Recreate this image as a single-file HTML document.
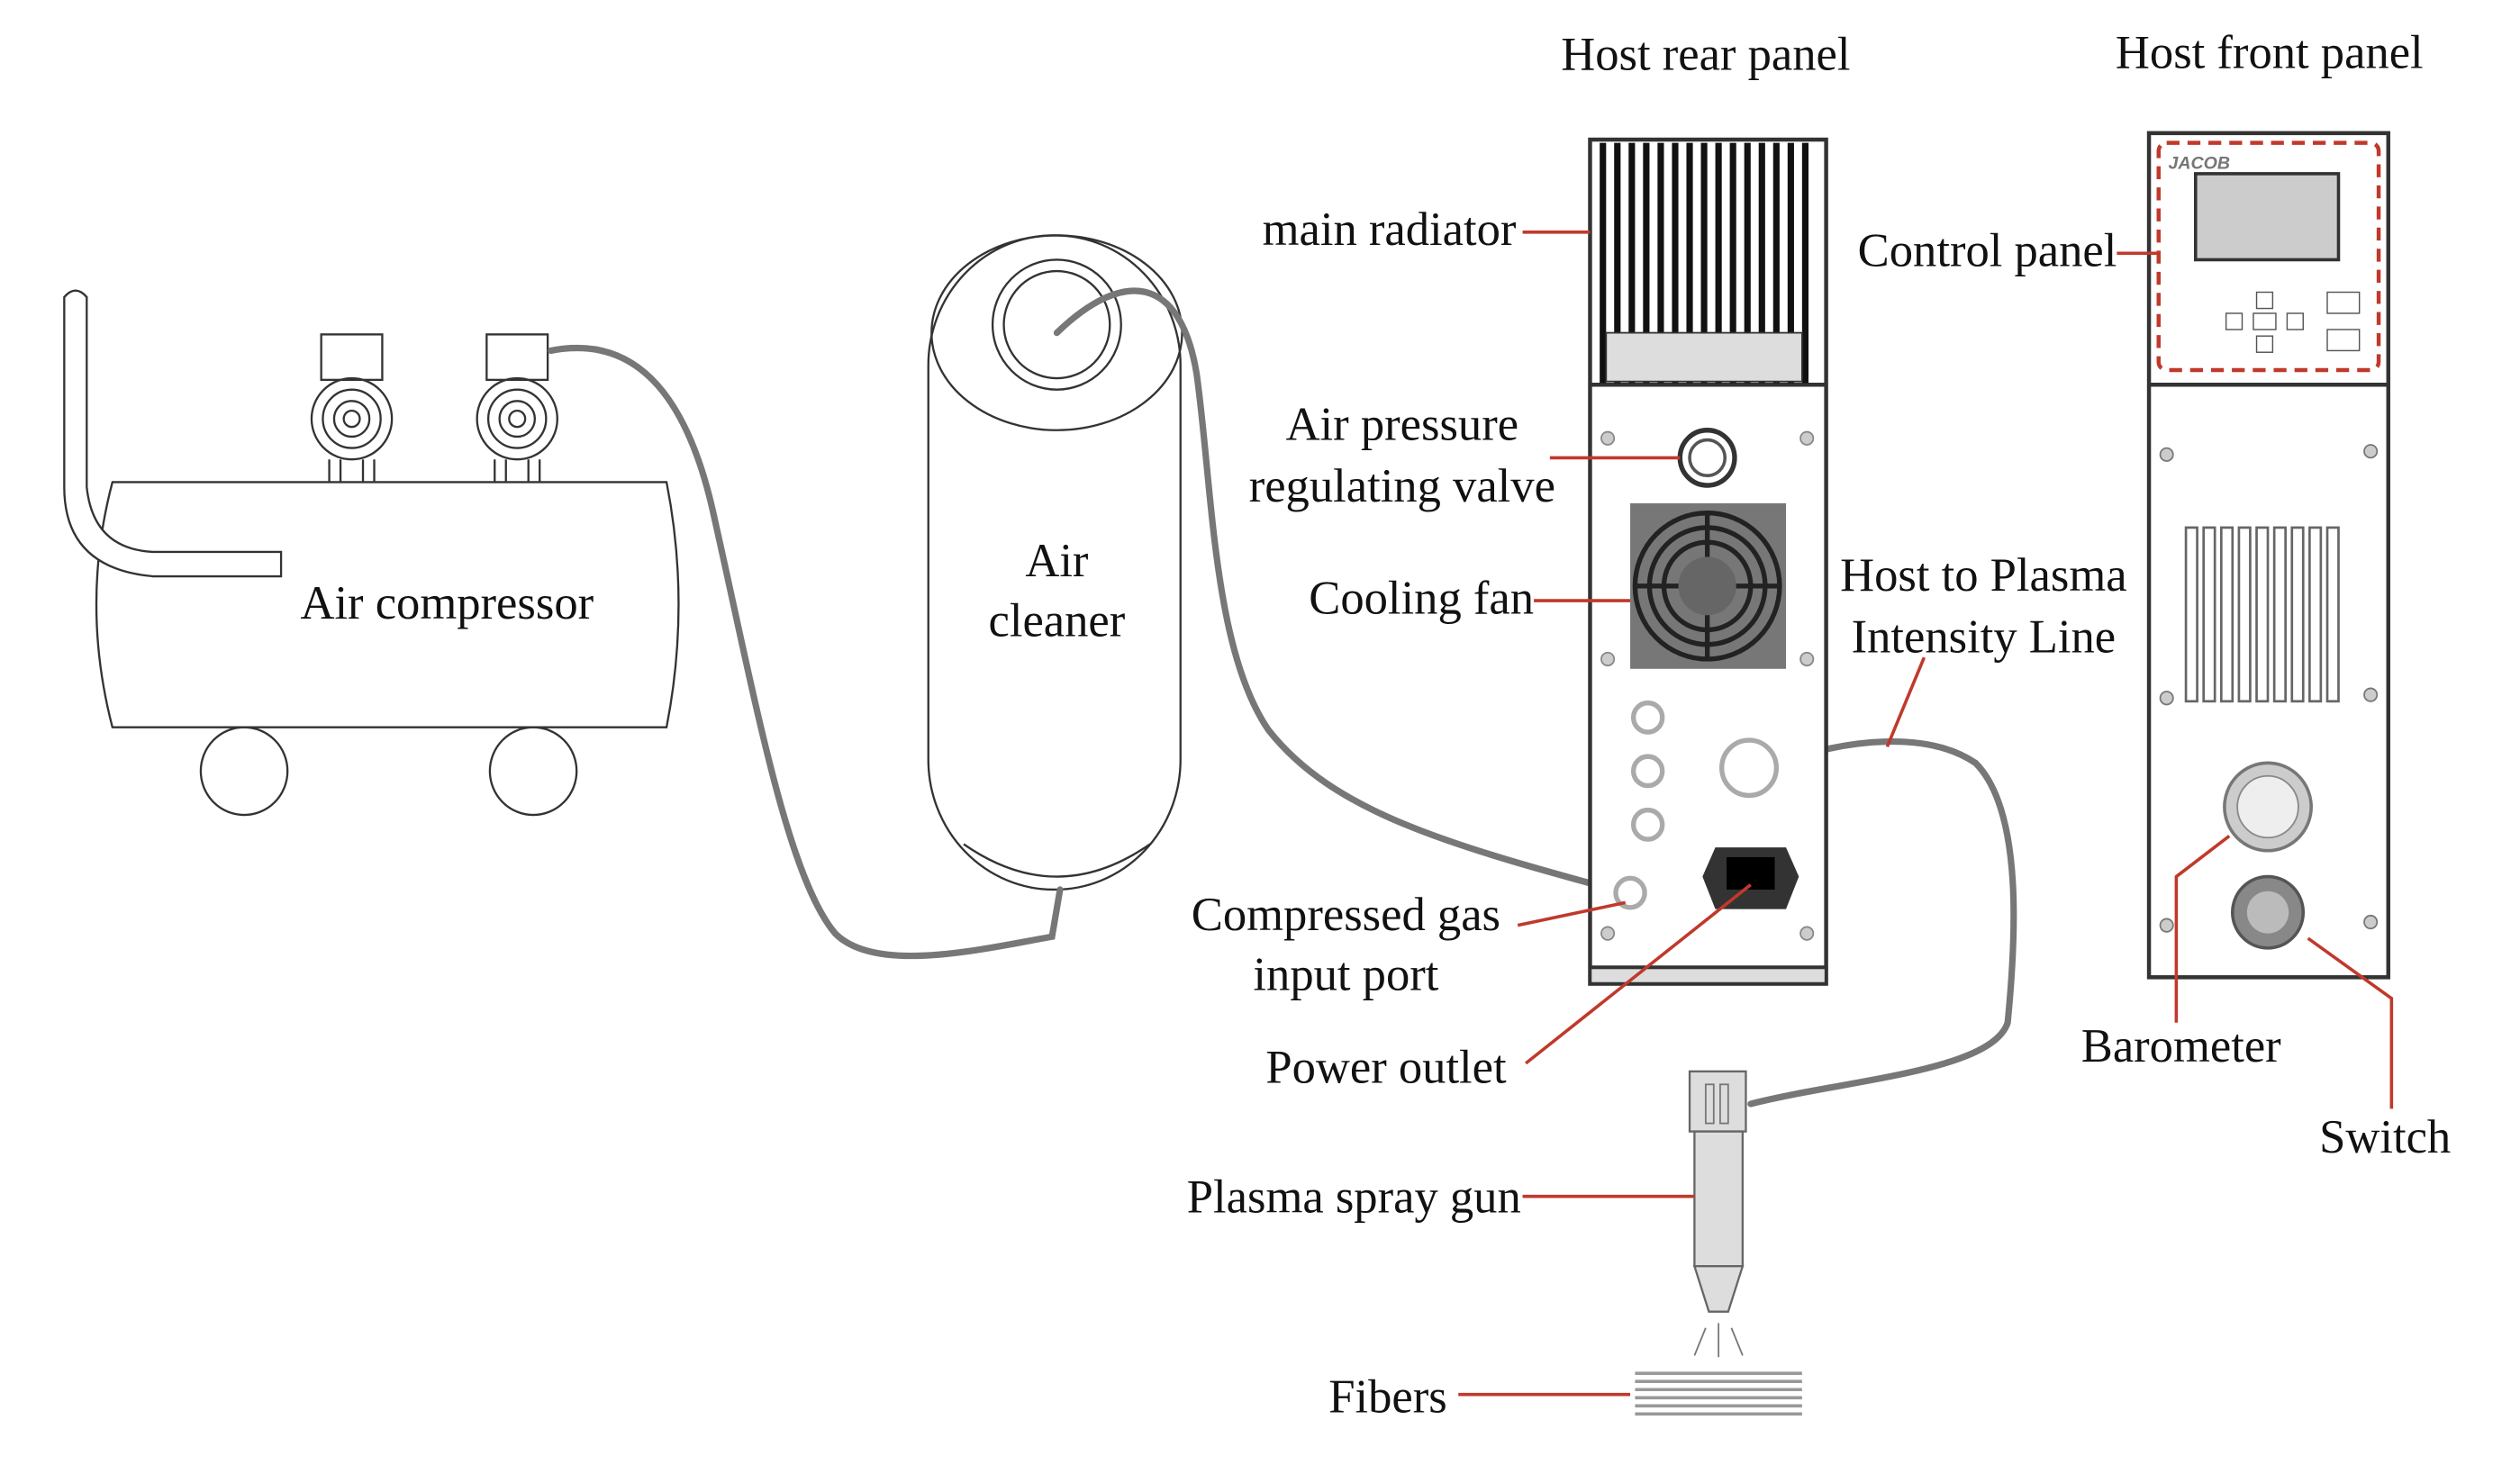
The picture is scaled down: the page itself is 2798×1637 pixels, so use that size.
<!DOCTYPE html>
<html><head><meta charset="utf-8"><style>
html,body{margin:0;padding:0;background:#fff;}
svg{display:block;}
text{font-family:"Liberation Serif",serif;font-size:29.5px;fill:#111;}
</style></head><body>
<svg width="2798" height="1637" viewBox="0 0 1569 908" preserveAspectRatio="none" xmlns="http://www.w3.org/2000/svg">
<rect width="1569" height="908" fill="#fff"/>
<!-- Air compressor -->
<g fill="none" stroke="#333" stroke-width="1.3">
<path d="M70,297 L415,297 Q430,372 415,448 L70,448 Q50,372 70,297 Z"/>
<path d="M40,183 Q47,175 54,183 L54,300 Q58,338 95,340 L175,340 L175,355 L95,355 Q40,350 40,300 Z" fill="#fff"/>
<circle cx="152" cy="475" r="27"/><circle cx="332" cy="475" r="27"/>
<rect x="200" y="206" width="38" height="28"/><rect x="303" y="206" width="38" height="28"/>
<circle cx="219" cy="258" r="25"/><circle cx="219" cy="258" r="18"/><circle cx="219" cy="258" r="11"/><circle cx="219" cy="258" r="5"/>
<circle cx="322" cy="258" r="25"/><circle cx="322" cy="258" r="18"/><circle cx="322" cy="258" r="11"/><circle cx="322" cy="258" r="5"/>
<path d="M205,283 L205,297 M212,283 L212,297 M226,283 L226,297 M233,283 L233,297 M308,283 L308,297 M315,283 L315,297 M329,283 L329,297 M336,283 L336,297"/>
</g>
<text x="187" y="381">Air compressor</text>
<!-- Air cleaner -->
<g fill="none" stroke="#333" stroke-width="1.3">
<rect x="578" y="145" width="157" height="403" rx="78" ry="80"/>
<ellipse cx="658" cy="205" rx="78" ry="60"/>
<circle cx="658" cy="200" r="40"/><circle cx="658" cy="200" r="33"/>
<path d="M600,520 Q658,560 716,520"/>
</g>
<text x="658" y="355" text-anchor="middle">Air</text>
<text x="658" y="392" text-anchor="middle">cleaner</text>
<!-- hoses -->
<g fill="none" stroke="#777" stroke-width="4" stroke-linecap="round">
<path d="M343,216 C400,205 430,250 445,320 C470,430 490,540 520,575 C545,600 610,585 655,577 L660,548"/>
<path d="M658,205 C700,165 735,170 745,230 C755,300 755,400 790,450 C830,500 900,520 1012,550"/>
<path d="M1108,470 C1150,455 1200,450 1230,470 C1260,500 1255,580 1250,630 C1240,660 1150,665 1090,680"/>
</g>
<!-- Rear panel -->
<g stroke="#333" stroke-width="2.5" fill="#fff">
<rect x="990" y="86" width="147" height="520"/>
<line x1="990" y1="237" x2="1137" y2="237"/>
<line x1="990" y1="596" x2="1137" y2="596"/>
</g>
<rect x="991" y="597" width="145" height="8" fill="#ddd"/>
<g fill="#111">
<rect x="996" y="88" width="4" height="148"/><rect x="1005" y="88" width="4" height="148"/><rect x="1014" y="88" width="4" height="148"/><rect x="1023" y="88" width="4" height="148"/><rect x="1032" y="88" width="4" height="148"/><rect x="1041" y="88" width="4" height="148"/><rect x="1050" y="88" width="4" height="148"/><rect x="1059" y="88" width="4" height="148"/><rect x="1068" y="88" width="4" height="148"/><rect x="1077" y="88" width="4" height="148"/><rect x="1086" y="88" width="4" height="148"/><rect x="1095" y="88" width="4" height="148"/><rect x="1104" y="88" width="4" height="148"/><rect x="1113" y="88" width="4" height="148"/><rect x="1122" y="88" width="4" height="148"/>
</g>
<rect x="1000" y="205" width="122" height="30" fill="#ddd" stroke="#333" stroke-width="1"/>
<circle cx="1063" cy="282" r="17" fill="none" stroke="#333" stroke-width="3"/><circle cx="1063" cy="282" r="11" fill="none" stroke="#555" stroke-width="2"/>
<rect x="1015" y="310" width="97" height="102" fill="#777"/>
<g fill="none" stroke="#222" stroke-width="3"><circle cx="1063" cy="361" r="45"/><circle cx="1063" cy="361" r="36"/><circle cx="1063" cy="361" r="27"/><path d="M1063,316 L1063,406 M1018,361 L1108,361"/></g>
<circle cx="1063" cy="361" r="18" fill="#666"/>
<g fill="none" stroke="#aaa" stroke-width="3"><circle cx="1026" cy="442" r="9"/><circle cx="1026" cy="475" r="9"/><circle cx="1026" cy="508" r="9"/><circle cx="1089" cy="473" r="17"/><circle cx="1015" cy="550" r="9"/></g>
<g fill="#ccc" stroke="#888"><circle cx="1001" cy="270" r="4"/><circle cx="1125" cy="270" r="4"/><circle cx="1001" cy="406" r="4"/><circle cx="1125" cy="406" r="4"/><circle cx="1001" cy="575" r="4"/><circle cx="1125" cy="575" r="4"/></g>
<path d="M1068,522 L1112,522 L1120,540 L1112,560 L1068,560 L1060,540 Z" fill="#333"/>
<rect x="1075" y="528" width="30" height="20" fill="#000"/>
<!-- Front panel -->
<g stroke="#333" stroke-width="2.5" fill="#fff">
<rect x="1338" y="82" width="149" height="520"/>
<line x1="1338" y1="237" x2="1487" y2="237"/>
</g>
<rect x="1344" y="88" width="137" height="140" rx="5" fill="none" stroke="#c0392b" stroke-width="2.5" stroke-dasharray="8,5"/>
<text x="1350" y="104" style="font-family:'Liberation Sans',sans-serif;font-size:11px;font-weight:bold;font-style:italic;fill:#777">JACOB</text>
<rect x="1367" y="107" width="89" height="53" fill="#ccc" stroke="#333" stroke-width="2"/>
<g fill="none" stroke="#555" stroke-width="0.8"><rect x="1386" y="193" width="10" height="10"/><rect x="1403" y="193" width="14" height="10"/><rect x="1424" y="193" width="10" height="10"/><rect x="1405" y="180" width="10" height="10"/><rect x="1405" y="207" width="10" height="10"/><rect x="1449" y="180" width="20" height="13"/><rect x="1449" y="203" width="20" height="13"/></g>
<g fill="none" stroke="#666" stroke-width="1.5"><rect x="1361" y="325" width="7" height="107"/><rect x="1372" y="325" width="7" height="107"/><rect x="1383" y="325" width="7" height="107"/><rect x="1394" y="325" width="7" height="107"/><rect x="1405" y="325" width="7" height="107"/><rect x="1416" y="325" width="7" height="107"/><rect x="1427" y="325" width="7" height="107"/><rect x="1438" y="325" width="7" height="107"/><rect x="1449" y="325" width="7" height="107"/></g>
<g fill="#ccc" stroke="#777"><circle cx="1349" cy="280" r="4"/><circle cx="1476" cy="278" r="4"/><circle cx="1349" cy="430" r="4"/><circle cx="1476" cy="428" r="4"/><circle cx="1349" cy="570" r="4"/><circle cx="1476" cy="568" r="4"/></g>
<circle cx="1412" cy="497" r="27" fill="#ccc" stroke="#777" stroke-width="2"/><circle cx="1412" cy="497" r="19" fill="#eee" stroke="#888"/>
<circle cx="1412" cy="562" r="22" fill="#888" stroke="#555" stroke-width="2"/><circle cx="1412" cy="562" r="13" fill="#bbb"/>
<!-- Gun and fibers -->
<g stroke="#666" stroke-width="1.3" fill="#ddd">
<rect x="1052" y="660" width="35" height="37"/>
<rect x="1055" y="697" width="30" height="83"/>
<path d="M1055,780 L1085,780 L1076,808 L1064,808 Z"/>
</g>
<g fill="none" stroke="#777" stroke-width="1"><rect x="1062" y="668" width="5" height="24"/><rect x="1071" y="668" width="5" height="24"/><path d="M1062,818 L1055,835 M1070,815 L1070,836 M1078,818 L1085,835"/></g>
<g stroke="#999" stroke-width="2"><line x1="1018" y1="846" x2="1122" y2="846"/><line x1="1018" y1="851" x2="1122" y2="851"/><line x1="1018" y1="856" x2="1122" y2="856"/><line x1="1018" y1="861" x2="1122" y2="861"/><line x1="1018" y1="866" x2="1122" y2="866"/><line x1="1018" y1="871" x2="1122" y2="871"/></g>
<!-- red leader lines -->
<g fill="none" stroke="#c0392b" stroke-width="2">
<path d="M948,143 L990,143"/>
<path d="M965,282 L1046,282"/>
<path d="M955,370 L1015,370"/>
<path d="M1198,405 L1175,460"/>
<path d="M1318,156 L1344,156"/>
<path d="M945,570 L1012,556"/>
<path d="M950,655 L1090,545"/>
<path d="M948,737 L1055,737"/>
<path d="M908,859 L1015,859"/>
<path d="M1355,630 L1355,540 L1388,515"/>
<path d="M1489,683 L1489,615 L1437,578"/>
</g>
<!-- labels -->
<text x="1062" y="43" text-anchor="middle">Host rear panel</text>
<text x="1413" y="42" text-anchor="middle">Host front panel</text>
<text x="944" y="151" text-anchor="end">main radiator</text>
<text x="873" y="271" text-anchor="middle">Air pressure</text>
<text x="873" y="309" text-anchor="middle">regulating valve</text>
<text x="955" y="378" text-anchor="end">Cooling fan</text>
<text x="1235" y="364" text-anchor="middle">Host to Plasma</text>
<text x="1235" y="402" text-anchor="middle">Intensity Line</text>
<text x="1318" y="164" text-anchor="end">Control panel</text>
<text x="838" y="573" text-anchor="middle">Compressed gas</text>
<text x="838" y="610" text-anchor="middle">input port</text>
<text x="863" y="667" text-anchor="middle">Power outlet</text>
<text x="947" y="747" text-anchor="end">Plasma spray gun</text>
<text x="901" y="870" text-anchor="end">Fibers</text>
<text x="1358" y="654" text-anchor="middle">Barometer</text>
<text x="1485" y="710" text-anchor="middle">Switch</text>
</svg>
</body></html>
